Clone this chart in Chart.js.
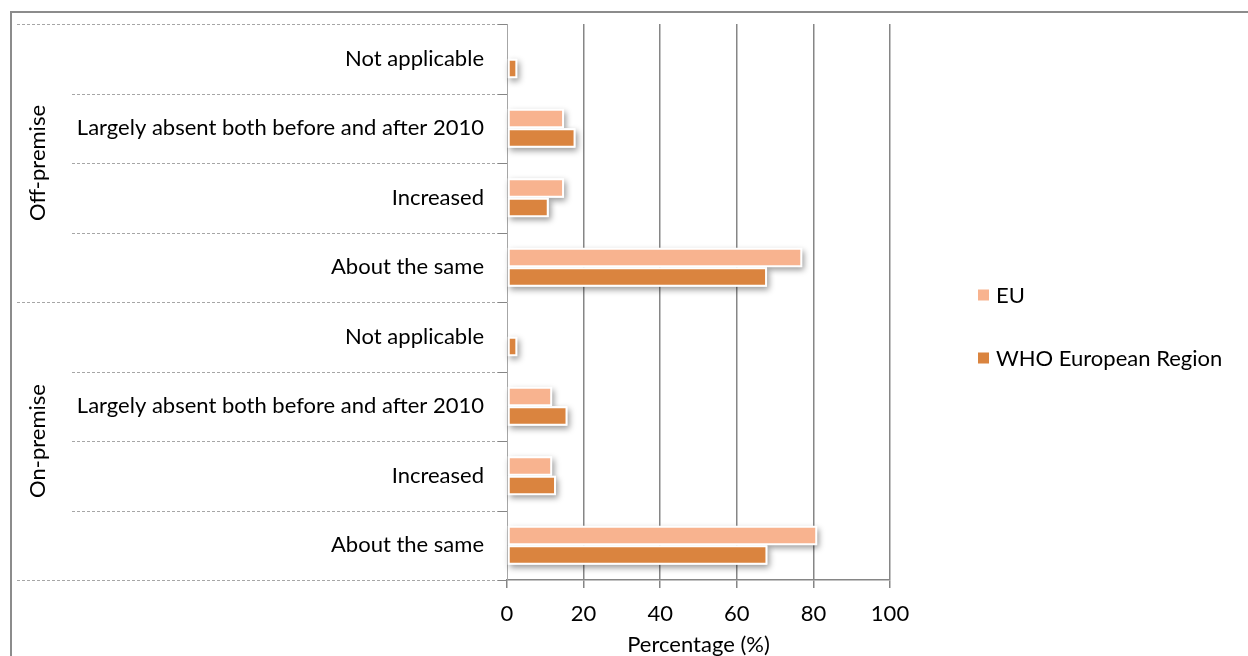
<!DOCTYPE html>
<html>
<head>
<meta charset="utf-8">
<script src="https://cdn.jsdelivr.net/npm/chart.js@4/dist/chart.umd.min.js"></script>
<style>
  html, body { margin: 0; padding: 0; background: #fff; }
  #wrap { width: 1248px; height: 656px; position: relative; }
</style>
</head>
<body>
<div id="wrap"><canvas id="chart"></canvas></div>
<script>
// Category labels, top to bottom
const categories = [
  'Not applicable',
  'Largely absent both before and after 2010',
  'Increased',
  'About the same',
  'Not applicable',
  'Largely absent both before and after 2010',
  'Increased',
  'About the same'
];
// Groups: name + how many categories it covers
const groupNames = ['Off-premise', 'On-premise'];
const groupSizes = [4, 4];

// Series values (percentages)
const euValues = [0, 14.9, 14.9, 77.1, 0, 11.8, 11.8, 81];
const whoValues = [2.7, 17.9, 10.9, 67.9, 2.7, 15.8, 12.8, 68];

const xTicks = [0, 20, 40, 60, 80, 100];

const FONT = 'Lato, Carlito, "Liberation Sans", sans-serif';
const GRID = '#868686';
const DASH = '#a6a6a6';

const canvas = document.getElementById('chart');
const ctx = canvas.getContext('2d');

// Drop shadow under each bar, like the office chart style
const barShadow = {
  id: 'barShadow',
  beforeDatasetsDraw(chart) {
    const c = chart.ctx;
    chart.data.datasets.forEach((ds, i) => {
      const meta = chart.getDatasetMeta(i);
      meta.data.forEach((bar) => {
        const p = bar.getProps(['x', 'y', 'base', 'height'], true);
        const w = Math.abs(p.x - p.base);
        if (w < 0.5) return;
        c.save();
        c.shadowColor = 'rgba(0,0,0,0.4)';
        c.shadowBlur = 6;
        c.shadowOffsetX = 2;
        c.shadowOffsetY = 3;
        c.fillStyle = '#fff';
        c.fillRect(Math.min(p.x, p.base), p.y - p.height / 2, w, p.height);
        c.restore();
      });
    });
  }
};

// Outer frame, group labels, dashed separators and the legend
const decorations = {
  id: 'decorations',
  beforeDraw(chart) {
    const c = chart.ctx;
    c.save();
    c.strokeStyle = '#8c8c8c';
    c.lineWidth = 2;
    c.strokeRect(11, 12, 1300, 700);
    c.restore();
  },
  afterDraw(chart) {
    const c = chart.ctx;
    const area = chart.chartArea;
    const step = (area.bottom - area.top) / categories.length;

    c.save();
    // separators at every category boundary
    let groupEdges = [0];
    groupSizes.reduce((acc, n) => { groupEdges.push(acc + n); return acc + n; }, 0);
    for (let i = 0; i <= categories.length; i++) {
      const py = Math.round(area.top + i * step) + 0.5;
      const startX = groupEdges.includes(i) ? 17 : 72;
      c.strokeStyle = DASH;
      c.lineWidth = 1;
      c.setLineDash([3, 2]);
      c.beginPath();
      c.moveTo(startX, py);
      c.lineTo(area.left, py);
      c.stroke();
      c.setLineDash([]);
      c.strokeStyle = GRID;
      c.beginPath();
      c.moveTo(area.left - 9, py);
      c.lineTo(area.left, py);
      c.stroke();
    }

    // rotated group labels
    c.fillStyle = '#000';
    c.font = '22px ' + FONT;
    c.textAlign = 'center';
    c.textBaseline = 'middle';
    groupNames.forEach((name, g) => {
      const top = area.top + groupEdges[g] * step;
      const bottom = area.top + groupEdges[g + 1] * step;
      c.save();
      c.translate(38, (top + bottom) / 2);
      c.rotate(-Math.PI / 2);
      c.fillText(name, 0, 0);
      c.restore();
    });

    // legend
    const legendY = [295, 358];
    c.textAlign = 'left';
    chart.data.datasets.forEach((ds, i) => {
      c.fillStyle = ds.backgroundColor;
      c.fillRect(978, legendY[i] - 5.5, 11, 11);
      c.fillStyle = '#000';
      c.fillText(ds.label, 996, legendY[i] + 1);
    });
    c.restore();
  }
};

new Chart(ctx, {
  type: 'bar',
  data: {
    labels: categories,
    datasets: [{
      label: 'EU',
      data: euValues,
      backgroundColor: '#f8b38f',
      borderColor: '#fff',
      borderWidth: 2,
      borderSkipped: false,
      categoryPercentage: 0.56,
      barPercentage: 1.0
    }, {
      label: 'WHO European Region',
      data: whoValues,
      backgroundColor: '#da843f',
      borderColor: '#fff',
      borderWidth: 2,
      borderSkipped: false,
      categoryPercentage: 0.56,
      barPercentage: 1.0
    }]
  },
  options: {
    indexAxis: 'y',
    responsive: true,
    maintainAspectRatio: false,
    animation: false,
    layout: {
      padding: { top: 24, left: 0, right: 358, bottom: 0 }
    },
    plugins: {
      legend: { display: false },
      tooltip: { enabled: false }
    },
    scales: {
      x: {
        min: 0,
        max: 100,
        afterBuildTicks: (scale) => { scale.ticks = xTicks.map((v) => ({ value: v })); },
        afterFit: (scale) => { scale.height = 76; },
        grid: {
          color: (c) => (c.tick && c.tick.value === 0 ? 'rgba(0,0,0,0)' : GRID),
          lineWidth: 1.5,
          tickColor: GRID,
          tickLength: 8
        },
        border: { display: true, color: GRID, width: 1.5 },
        ticks: {
          color: '#000',
          padding: 13,
          font: { family: FONT, size: 22 }
        },
        title: {
          display: true,
          text: 'Percentage (%)',
          color: '#000',
          padding: { top: 0, bottom: 0 },
          font: { family: FONT, size: 22, lineHeight: 1 }
        }
      },
      y: {
        afterFit: (scale) => {
          scale.width = 507;
          scale.paddingTop = 0;
          scale.paddingBottom = 0;
        },
        grid: { display: false, drawTicks: false },
        border: { display: true, color: DASH, width: 1, dash: [3, 2] },
        ticks: {
          color: '#000',
          padding: 23,
          font: { family: FONT, size: 22 }
        }
      }
    }
  },
  plugins: [barShadow, decorations]
});
</script>
</body>
</html>
